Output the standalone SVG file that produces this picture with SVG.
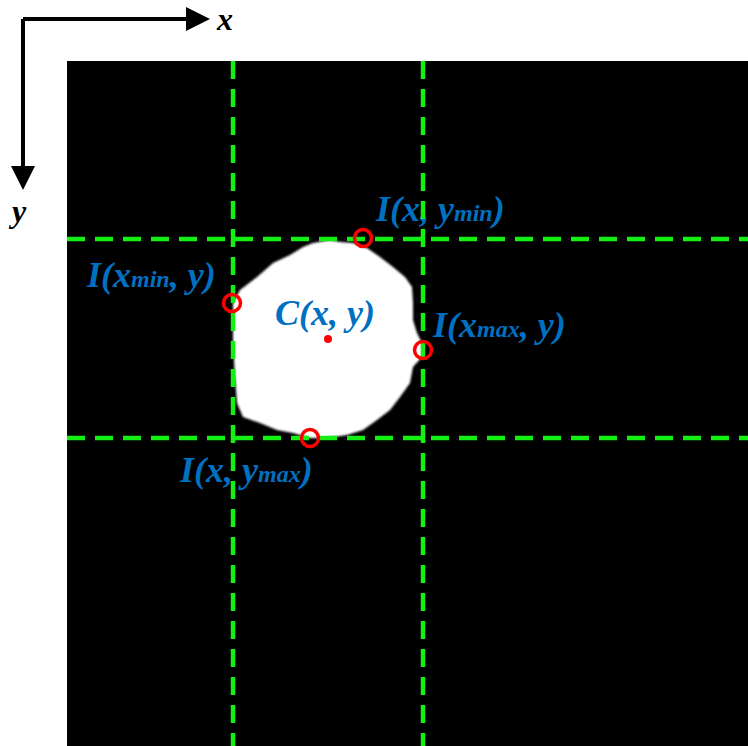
<svg xmlns="http://www.w3.org/2000/svg" width="748" height="746" viewBox="0 0 748 746">
<style>
.lbl{font-family:"Liberation Serif","Times New Roman",serif;font-weight:bold;font-style:italic;fill:#0070c0;font-size:36px}
.sub{font-size:24px}
.ax{font-family:"Liberation Serif","Times New Roman",serif;font-weight:bold;font-style:italic;fill:#000;font-size:32px}
.grid{stroke:#14f014;stroke-width:4.5;stroke-dasharray:18 10;fill:none}
.pt{fill:none;stroke:#ff0000;stroke-width:3.5}
</style>
<defs>
<filter id="soft" x="-5%" y="-5%" width="110%" height="110%"><feGaussianBlur stdDeviation="1"/></filter>
</defs>
<rect width="748" height="746" fill="#fff"/>
<g id="axes">
<path d="M23,19 H186" stroke="#000" stroke-width="4" fill="none"/>
<path d="M186,7 L210,19 L186,31 Z" fill="#000"/>
<path d="M23,19 V166" stroke="#000" stroke-width="4" fill="none"/>
<path d="M11,166 L23,190 L35,166 Z" fill="#000"/>
<text class="ax" x="217" y="30">x</text>
<text class="ax" x="12" y="222">y</text>
</g>
<g id="image">
<rect x="67" y="61" width="681" height="685" fill="#000"/>
<path id="blob" filter="url(#soft)" fill="#fff" d="M313,243 L330,240 L340,242 L353,243 L367,248 L380,257 L393,267 L405,277 L412,287 L413,303 L413,320 L417,333 L422,343 L422,357 L413,367 L410,383 L400,397 L390,410 L377,420 L363,430 L347,435 L327,438 L310,438 L293,433 L277,430 L260,423 L243,417 L237,403 L235,377 L233,343 L233,303 L240,290 L257,277 L273,263 L290,255 L303,247 Z"/>
</g>
<g id="labels">
<text class="lbl" x="376" y="221">I(x, y<tspan class="sub">min</tspan>)</text>
<text class="lbl" x="87" y="287">I(x<tspan class="sub">min</tspan>, y)</text>
<text class="lbl" x="275" y="325">C(x, y)</text>
<text class="lbl" x="433" y="337">I(x<tspan class="sub">max</tspan>, y)</text>
<text class="lbl" x="180" y="482">I(x, y<tspan class="sub">max</tspan>)</text>
</g>
<g id="connectors">
<line class="grid" x1="233" y1="61" x2="233" y2="746"/>
<line class="grid" x1="423" y1="61" x2="423" y2="746"/>
<line class="grid" x1="67" y1="239" x2="748" y2="239"/>
<line class="grid" x1="67" y1="438" x2="748" y2="438"/>
</g>
<g id="points">
<circle class="pt" cx="363" cy="238" r="8.5"/>
<circle class="pt" cx="232" cy="303" r="8.5"/>
<circle class="pt" cx="423" cy="350" r="8.5"/>
<circle class="pt" cx="310" cy="438" r="8.5"/>
<circle cx="328" cy="339" r="4" fill="#ff0000"/>
</g>
</svg>
